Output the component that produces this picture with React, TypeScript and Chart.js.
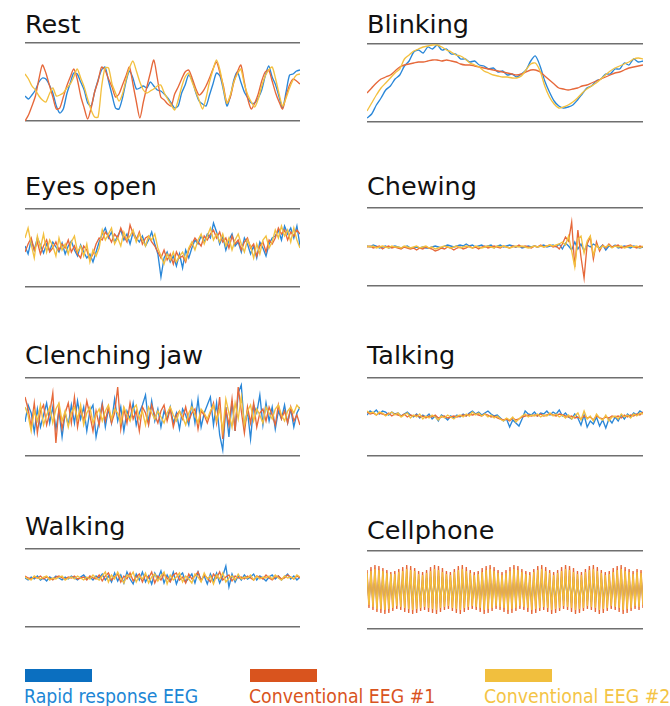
import React, { useEffect, useRef } from "react";
import { Chart, registerables } from "chart.js";

Chart.register(...registerables);

// ---------- Series names ----------
const SERIES = ["Rapid response EEG", "Conventional EEG #1", "Conventional EEG #2"];

// ---------- Panel titles ----------
const TITLES = ["Rest", "Blinking", "Eyes open", "Chewing", "Clenching jaw", "Talking", "Walking", "Cellphone"];

// ---------- Data (µV, arbitrary units, evenly sampled) ----------
const restBlue = [-14, -17, -13, -8, 0, 4, 3, -3, -11, -24, -31, -27, -12, -1, 9, 8, 0, -8, -21, -24, -10, 2, 12, 15, 1, -13, -26, -27, -16, 0, 11, 4, -7, -6, -4, -6, 0, -4, -8, -9, -12, -16, -21, -26, -24, -11, -3, 7, 2, -10, -19, -22, -24, -13, -2, 9, 6, -8, -24, -14, 2, 10, 0, -10, -16, -21, -21, -16, -8, 6, 16, 5, -3, -15, -26, -10, 7, 8, 11, 12];
const restOrange = [-39, -33, -24, -14, 3, 17, 9, -3, -15, -27, -26, -15, -4, 5, 13, 3, -14, -26, -37, -26, -10, 1, 15, 12, 3, -5, -15, -12, -3, 6, 15, -2, -20, -36, -20, -5, 9, 22, 4, -15, -18, -22, -24, -12, -5, 3, 10, 12, 4, -6, -13, -10, -4, 4, 13, 20, 9, -4, -21, -15, 0, 10, 17, 0, -17, -27, -21, -12, 1, 10, 12, 1, -11, -20, -27, -14, -3, 3, 1, -2];
const restYellow = [8, 3, -4, -8, -14, -18, -20, -12, -6, -14, -13, -11, -6, -2, 5, 13, 4, -5, -17, -28, -35, -35, -5, 14, 14, -2, -11, -19, -12, 2, 14, 21, 11, 0, -8, -11, -9, -7, -4, -3, -11, -17, -23, -28, -18, -5, 5, 9, 0, -9, -18, -27, -16, 0, 12, 22, 12, -6, -21, -13, 0, 8, 13, -2, -13, -20, -25, -17, -4, 6, 12, 15, 3, -12, -24, -16, -6, 2, 7, 8];

const blinkBlue = [-35, -31, -22, -15, -7, -3, 4, 8, 17, 22, 31, 33, 30, 36, 34, 38, 33, 34, 29, 29, 24, 24, 21, 22, 18, 17, 14, 15, 11, 12, 8, 9, 6, 9, 13, 22, 27, 17, 2, -9, -18, -23, -25, -24, -22, -17, -11, -5, -3, 2, 4, 9, 9, 14, 14, 20, 18, 24, 21, 22];
const blinkOrange = [-10, -5, 0, 4, 6, 8, 12, 16, 18, 19, 20, 21, 21, 22, 23, 23, 22, 23, 22, 21, 19, 18, 18, 17, 16, 15, 14, 13, 12, 11, 10, 9, 8, 9, 11, 13, 13, 11, 7, 3, -1, -5, -6, -7, -6, -5, -3, -2, 0, 2, 4, 6, 8, 10, 11, 13, 15, 16, 17, 18];
const blinkYellow = [-28, -20, -12, -5, 0, 5, 10, 14, 24, 28, 32, 34, 36, 37, 38, 38, 36, 33, 31, 28, 27, 24, 20, 18, 16, 12, 10, 8, 7, 6, 6, 5, 5, 7, 13, 19, 20, 12, -3, -14, -21, -25, -24, -22, -19, -15, -10, -6, -3, 0, 4, 8, 12, 15, 17, 19, 21, 24, 25, 24];

const eyesBlue = [2, -6, 8, -2, 10, 3, -5, 4, -3, 6, 1, -4, 5, -6, 2, 7, -2, -8, 3, -4, -10, -6, -14, -4, 6, 14, 20, 10, 16, 6, 12, 18, 8, 14, 4, 16, 10, 6, 12, 2, 8, 16, 4, -6, -29, -10, -4, -14, -8, -18, -6, -20, -2, -10, 0, 8, 4, 12, 6, 14, 10, 25, 16, 4, 12, -2, 8, 14, 2, 6, -4, 10, 4, -6, 2, -10, 6, 0, -8, 4, 10, 12, 18, 8, 22, 14, 20, 10, 22, 2];
const eyesOrange = [-4, 4, 10, -2, 6, -6, 2, 8, -4, 0, 6, -2, 4, 0, 8, -4, 2, -6, -10, 2, -2, -12, -6, 4, 10, 8, 16, 12, 6, 14, 10, 20, 12, 6, 23, 14, 8, 16, 4, 10, 12, 6, 2, -4, -10, -2, -12, -6, -16, -4, -10, -8, -14, -2, 4, 10, 6, 2, 12, 8, 14, 18, 10, 16, 6, 10, 0, 12, 4, 8, -2, 6, 10, 0, 4, -8, 2, 6, -4, 8, 4, 10, 20, 14, 18, 8, 16, 12, 18, 14];
const eyesYellow = [10, 20, 4, -10, 12, 0, 14, -4, 8, 2, -8, 10, -2, 4, -6, 6, 12, -4, 2, -8, 4, -14, -2, -8, 0, 18, 8, 14, 20, 4, 10, 2, 16, 8, 12, 18, 6, 14, 8, 2, 12, 8, 14, 0, -8, -16, -6, -12, -4, -14, -8, -4, -12, 0, 6, -2, 8, 14, 4, 12, 20, 8, 14, 6, 14, 2, 10, -2, 8, 14, 4, -4, 8, 2, -10, 4, -6, 8, 12, 0, 6, 18, 10, 22, 12, 18, 6, 20, 8, 0];

const chewBlue = [1, 0, 2, 1, -1, 0, 1, -1, 0, 1, 0, -1, 0, 1, -1, -1, 0, -1, 0, -1, -1, 0, 1, 0, -1, 1, 2, 1, 0, 1, 2, 1, 3, 1, 2, 0, 1, 2, 0, 1, 2, -1, 1, 2, 0, 1, 2, 1, 0, 1, -1, 0, 1, 0, 1, 0, 1, 2, 0, 1, 2, 0, 3, -2, 4, 1, -3, 5, -2, 3, -4, 2, 0, 3, 1, -1, 2, -3, 1, 0, 2, -1, 0, 1, 0, -1, 1, 0, -1, 0];
const chewOrange = [0, 1, -1, 0, 1, -2, 0, 1, -1, 0, -1, -2, 0, -1, -2, -1, -3, -1, -2, 0, -1, -2, -4, -3, -1, -2, 0, -1, -3, -1, 0, -2, -1, 1, -1, 0, -2, 0, 1, -1, 0, 1, 0, -1, 1, 0, -1, 1, 0, 2, 0, 1, 0, -1, 1, 0, 2, 0, 1, 2, 0, 1, -2, 3, 10, 6, 25, -20, 17, -10, -31, 3, 10, -12, 5, -4, 2, -1, 3, 0, 1, 2, -1, 0, 1, 2, 0, -1, 1, 0];
const chewYellow = [1, 0, 1, -1, 0, 1, 0, -1, 1, 0, 0, -1, 1, 0, -1, 0, 1, -1, 0, 1, -1, 0, -2, -1, 0, 1, 0, -1, 0, 1, -1, 0, 1, 0, -1, 1, 0, -1, 0, 1, 0, -1, 1, 0, 1, 0, -1, 0, 1, 0, 1, 0, -1, 0, 1, 0, 1, 0, 1, 2, 1, 2, 3, 5, 2, 11, -4, -20, 8, 11, -6, 6, 11, -8, 2, -2, 1, 0, 2, -1, 1, 0, 1, -1, 0, 1, 0, 1, -1, 1];

const jawBlue = [-5, 12, 4, -15, 8, -10, 2, 14, -6, 10, -12, 6, -20, 4, -8, 12, -6, 16, -2, 10, -14, 6, 12, -20, -4, 14, -10, 8, -6, 18, -4, 10, -14, 6, -2, 14, -8, 4, 12, 22, -6, 16, -4, 8, -10, 6, -2, 10, -6, 4, -12, 8, 2, -8, 14, -6, 18, -10, 4, 12, 20, -8, 14, -18, -33, 10, -20, 16, -14, 24, 32, -10, 6, -22, 12, 4, 22, -8, 14, -4, 10, -12, 6, -2, 12, -6, 8, -10, 4, 10];
const jawOrange = [20, 8, -10, 14, -16, 6, 12, -8, 4, 24, -26, 10, -12, 4, 14, -6, 20, -10, 8, -4, 16, 2, -14, 6, -8, 12, -4, 10, -6, 4, 30, -12, 8, -6, 14, -2, 6, -14, 10, 4, -8, 12, 2, -6, 6, 12, -4, 8, -10, 2, 6, -2, 10, -4, 4, 8, -12, 6, 2, -6, 4, 14, -6, 20, -22, 8, -8, 18, -14, 30, 6, -16, 10, -6, 14, -10, 4, 8, -4, 10, 2, -8, 12, -2, 6, -6, 10, -4, 2, -8];
const jawYellow = [10, 2, -14, 6, -4, 12, -8, 2, 10, -6, 8, 14, -4, 6, -10, 4, 10, -2, 12, -8, 4, 10, -6, 2, 8, -4, 6, 12, -2, 8, 4, -6, 10, 2, -4, 8, 12, -2, 6, -8, 10, 4, -2, 6, 0, -6, 4, 10, 2, -4, 6, 0, -8, 4, 10, 2, -6, 8, 4, -2, 6, 12, -4, 8, -14, 18, 4, -10, 14, -2, 20, -8, 6, 12, -4, 8, 2, -6, 10, 4, -2, 8, 12, 2, -4, 6, 10, 4, 12, 8];

const talkBlue = [2, 6, 4, 7, 3, 6, 5, 2, 5, 3, 4, 1, 3, 5, 2, 0, 3, -1, 2, 0, 3, -2, 1, -4, 2, 0, -3, 1, -1, 2, 0, 3, 1, 4, 6, 3, 5, 2, 4, 6, 3, 1, 2, -1, -4, -2, -10, -3, -6, -9, -2, 6, 3, 2, 5, 1, 4, 3, 6, 2, 5, 3, 7, 1, 4, 0, -2, 3, -1, -8, 2, -10, -4, -7, 0, -9, -3, -11, -2, -6, 0, -4, 2, -2, 3, 0, 4, 2, 6, 4];
const talkOrange = [5, 3, 4, 2, 4, 3, 2, 4, 1, 3, 2, 1, 3, 0, 2, 1, 2, 0, 1, -1, 1, 0, 2, -1, 0, 1, -1, 0, 1, 0, 1, 2, 1, 3, 2, 3, 2, 1, 3, 2, 0, 1, -1, -2, -3, -2, -4, -1, -3, -2, 0, 1, 2, 1, 2, 1, 3, 1, 2, 3, 2, 1, 3, 2, 1, 0, 1, -1, 0, -2, 1, -1, 0, -3, 1, -1, -2, 0, -1, 1, 0, 1, -1, 2, 0, 2, 1, 3, 2, 5];
const talkYellow = [6, 4, 5, 2, 5, 4, 1, 3, 5, 2, 4, 0, 2, 4, -1, 2, 0, 3, -2, 1, -1, 2, 0, -3, 1, -1, 2, 0, -2, 1, 2, 0, 3, 1, 5, 2, 4, 1, 3, 0, 2, -1, 1, -2, -4, -1, -3, 0, -5, -2, 1, 3, 0, 2, 1, 3, 0, 2, 1, 4, 1, 3, 0, 2, -1, 2, -2, 1, 4, -3, 6, -2, 1, -4, 3, -1, -3, 2, -4, 0, 1, -2, 3, 0, 2, -1, 3, 1, 4, 3];

const walkBlue = [10, 8, 11, 9, 12, 8, 10, 7, 11, 9, 12, 10, 8, 11, 9, 12, 10, 8, 11, 13, 9, 11, 8, 12, 10, 14, 8, 12, 6, 15, 7, 13, 5, 16, 9, 4, 14, 8, 16, 6, 12, 4, 15, 9, 17, 5, 13, 7, 16, 4, 12, 15, 6, 10, 14, 5, 16, 8, 12, 4, 14, 7, 15, 5, 12, 22, 1, 14, 6, 12, 8, 13, 9, 11, 14, 8, 12, 10, 7, 11, 13, 9, 12, 8, 11, 14, 9, 12, 8, 11];
const walkOrange = [12, 10, 9, 11, 10, 12, 9, 11, 10, 8, 11, 12, 10, 9, 11, 10, 12, 9, 10, 11, 8, 12, 10, 9, 13, 7, 12, 15, 8, 11, 14, 6, 12, 9, 15, 7, 11, 14, 6, 13, 10, 16, 5, 12, 8, 14, 10, 6, 13, 15, 8, 11, 5, 14, 9, 12, 16, 7, 13, 10, 6, 14, 10, 16, 8, 11, 13, 7, 12, 10, 11, 9, 12, 10, 8, 12, 11, 9, 13, 10, 8, 11, 12, 9, 10, 13, 11, 9, 12, 10];
const walkYellow = [11, 9, 8, 12, 10, 9, 11, 12, 8, 10, 9, 11, 12, 8, 10, 11, 9, 12, 10, 8, 11, 9, 13, 10, 8, 12, 16, 6, 13, 9, 16, 10, 5, 13, 11, 16, 6, 12, 9, 15, 5, 11, 14, 7, 12, 16, 4, 13, 8, 11, 15, 6, 12, 9, 5, 14, 11, 6, 15, 9, 12, 4, 13, 9, 15, 6, 10, 12, 8, 14, 9, 11, 10, 13, 8, 12, 9, 11, 10, 12, 9, 13, 10, 8, 12, 10, 11, 9, 13, 11];

const cellBlue = [12, -10, 13, -12, 14, -13, 14, -13, 13, -14, 12, -13, 11, -12, 11, -11, 12, -12, 13, -12, 14, -13, 14, -14, 13, -13, 11, -12, 10, -12, 12, -13, 13, -13, 14, -14, 14, -13, 13, -12, 11, -11, 10, -12, 12, -13, 14, -14, 14, -13, 13, -12, 12, -11, 10, -12, 11, -13, 13, -14, 14, -13, 14, -12, 13, -11, 12, -12, 10, -13, 12, -14, 13, -13, 14, -12, 14, -11, 12, -12, 11, -13, 10, -14, 12, -13, 14, -12, 14, -12, 13, -13, 12, -14, 10, -13, 12, -12, 13, -11, 14, -12, 14, -13, 13, -14, 11, -13, 10, -12, 12, -11, 14, -12, 14, -13, 13, -14, 12, -13, 10, -12, 11, -11, 12, -12, 14, -13, 14, -14, 13, -13, 12, -12, 11, -11, 12, -12, 12, -10];
const cellOrange = [20, -18, 23, -20, 25, -22, 24, -23, 22, -24, 20, -23, 18, -21, 19, -19, 21, -20, 23, -22, 25, -23, 24, -24, 22, -23, 19, -21, 18, -20, 20, -22, 23, -23, 25, -24, 24, -22, 22, -20, 19, -19, 18, -21, 21, -23, 24, -24, 25, -22, 23, -20, 20, -19, 18, -20, 19, -22, 22, -24, 24, -23, 25, -21, 23, -19, 20, -20, 18, -22, 20, -24, 23, -23, 25, -21, 24, -19, 21, -20, 19, -22, 18, -24, 21, -23, 24, -21, 25, -20, 23, -22, 20, -24, 18, -23, 20, -21, 23, -19, 25, -20, 24, -22, 22, -24, 19, -23, 18, -21, 21, -19, 24, -20, 25, -22, 23, -24, 20, -23, 18, -21, 19, -19, 22, -20, 24, -22, 25, -24, 23, -23, 21, -21, 19, -19, 21, -20, 20, -18];
const cellYellow = [17, -15, 19, -17, 21, -19, 20, -19, 19, -20, 17, -19, 16, -18, 16, -16, 18, -17, 19, -18, 21, -19, 20, -20, 19, -19, 16, -18, 15, -17, 17, -18, 19, -19, 21, -20, 20, -18, 18, -17, 16, -16, 15, -18, 18, -19, 20, -20, 21, -18, 19, -17, 17, -16, 15, -17, 16, -18, 18, -20, 20, -19, 21, -18, 19, -16, 17, -17, 15, -18, 17, -20, 19, -19, 21, -18, 20, -16, 18, -17, 16, -18, 15, -20, 18, -19, 20, -18, 21, -17, 19, -18, 17, -20, 15, -19, 17, -18, 19, -16, 21, -17, 20, -18, 18, -20, 16, -19, 15, -18, 18, -16, 20, -17, 21, -18, 19, -20, 17, -19, 15, -18, 16, -16, 18, -17, 20, -18, 21, -20, 19, -19, 18, -18, 16, -16, 18, -17, 17, -15];

// ---------- Styles ----------
const TRACE_COLORS = ["#2a87d8", "#e6683a", "#f3c03f"];
const LEGEND_BAR_COLORS = ["#0b6fc0", "#d9541e", "#f1bf3e"];
const LEGEND_TEXT_COLORS = ["#1c86d5", "#d9541e", "#f4c445"];
const GRID_COLOR = "#6f6f6f";
const Y_MIN = -39;
const Y_MAX = 39;
const PAD = 4;
const PLOT_H = 78;

type PanelProps = {
  title: string;
  left: number;
  top: number;
  width: number;
  titleTop: number;
  series: number[][];
  tension: number;
};

function Panel({ title, left, top, width, titleTop, series, tension }: PanelProps) {
  const ref = useRef<HTMLCanvasElement>(null);
  useEffect(() => {
    const labels = series[0].map((_, i) => i);
    const chart = new Chart(ref.current as HTMLCanvasElement, {
      type: "line",
      data: {
        labels,
        datasets: series.map((d, k) => ({
          label: SERIES[k],
          data: d,
          borderColor: TRACE_COLORS[k],
          backgroundColor: TRACE_COLORS[k],
          borderWidth: 1.35,
          pointRadius: 0,
          tension,
          fill: false,
          order: 3 - k,
        })),
      },
      options: {
        animation: false,
        responsive: false,
        maintainAspectRatio: false,
        events: [],
        layout: { padding: { top: PAD, bottom: PAD, left: 0, right: 0 } },
        plugins: { legend: { display: false }, tooltip: { enabled: false } },
        scales: {
          x: { display: false },
          y: {
            min: Y_MIN,
            max: Y_MAX,
            afterBuildTicks: (s: any) => {
              s.ticks = [{ value: Y_MIN }, { value: Y_MAX }];
            },
            ticks: { display: false },
            grid: { drawTicks: false, color: GRID_COLOR, lineWidth: 1.5 },
            border: { display: false },
          },
        },
      },
    });
    return () => chart.destroy();
  }, []);
  return (
    <>
      <div
        style={{
          position: "absolute",
          left: left,
          top: titleTop,
          fontFamily: "'DejaVu Sans', sans-serif",
          fontSize: 25.5,
          lineHeight: "25.5px",
          color: "#111",
          whiteSpace: "nowrap",
        }}
      >
        {title}
      </div>
      <canvas
        ref={ref}
        width={width}
        height={PLOT_H + 2 * PAD}
        style={{ position: "absolute", left: left, top: top - PAD, width, height: PLOT_H + 2 * PAD }}
      />
    </>
  );
}

const PANELS = [
  { title: TITLES[0], left: 25, top: 43, width: 275, titleTop: 12, series: [restBlue, restOrange, restYellow], tension: 0.25 },
  { title: TITLES[1], left: 367, top: 44, width: 276, titleTop: 12, series: [blinkBlue, blinkOrange, blinkYellow], tension: 0.25 },
  { title: TITLES[2], left: 25, top: 209, width: 275, titleTop: 174, series: [eyesBlue, eyesOrange, eyesYellow], tension: 0 },
  { title: TITLES[3], left: 367, top: 208, width: 276, titleTop: 174, series: [chewBlue, chewOrange, chewYellow], tension: 0 },
  { title: TITLES[4], left: 25, top: 378, width: 275, titleTop: 343, series: [jawBlue, jawOrange, jawYellow], tension: 0 },
  { title: TITLES[5], left: 367, top: 378, width: 276, titleTop: 343, series: [talkBlue, talkOrange, talkYellow], tension: 0 },
  { title: TITLES[6], left: 25, top: 549, width: 275, titleTop: 514, series: [walkBlue, walkOrange, walkYellow], tension: 0 },
  { title: TITLES[7], left: 367, top: 551, width: 276, titleTop: 518, series: [cellBlue, cellOrange, cellYellow], tension: 0 },
];

const LEGEND_X = [25, 250, 485];

export default function App() {
  return (
    <div
      style={{
        position: "fixed",
        left: 0,
        top: 0,
        width: 670,
        height: 706,
        background: "#fff",
        overflow: "hidden",
      }}
    >
      {PANELS.map((p) => (
        <Panel key={p.title} {...p} />
      ))}
      {SERIES.map((name, k) => (
        <React.Fragment key={name}>
          <div
            style={{
              position: "absolute",
              left: LEGEND_X[k],
              top: 669,
              width: 67,
              height: 13,
              background: LEGEND_BAR_COLORS[k],
            }}
          />
          <div
            style={{
              position: "absolute",
              left: LEGEND_X[k] - 1,
              top: 687,
              fontFamily: "'DejaVu Sans Condensed', 'DejaVu Sans', sans-serif",
              fontStretch: "condensed",
              fontSize: 19.3,
              lineHeight: "19.3px",
              color: LEGEND_TEXT_COLORS[k],
              whiteSpace: "nowrap",
            }}
          >
            {name}
          </div>
        </React.Fragment>
      ))}
    </div>
  );
}
